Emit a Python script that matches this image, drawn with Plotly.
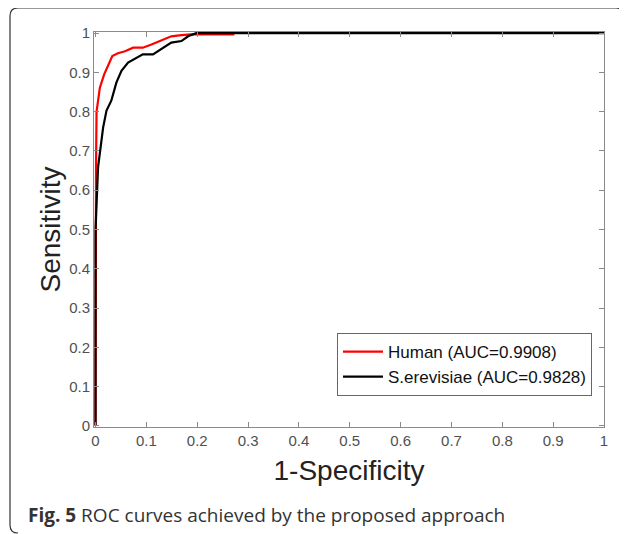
import plotly.graph_objects as go

# Data
human_fpr = [0, 0, 0.001, 0.002, 0.0085, 0.017, 0.025, 0.033, 0.044, 0.058, 0.074, 0.093, 0.11, 0.129, 0.149, 0.169, 0.188, 0.273]
human_tpr = [0, 0.5, 0.66, 0.80, 0.861, 0.895, 0.921, 0.942, 0.949, 0.954, 0.963, 0.963, 0.971, 0.982, 0.992, 0.995, 0.997, 0.997]

yeast_fpr = [0, 0, 0.005, 0.01, 0.015, 0.0216, 0.031, 0.041, 0.051, 0.064, 0.080, 0.093, 0.113, 0.129, 0.149, 0.169, 0.182, 0.198, 1.0]
yeast_tpr = [0, 0.5, 0.659, 0.718, 0.76, 0.803, 0.828, 0.874, 0.904, 0.925, 0.937, 0.946, 0.946, 0.959, 0.976, 0.980, 0.992, 1.0, 1.0]

tick_vals = [0, 0.1, 0.2, 0.3, 0.4, 0.5, 0.6, 0.7, 0.8, 0.9, 1]
tick_text = ["0", "0.1", "0.2", "0.3", "0.4", "0.5", "0.6", "0.7", "0.8", "0.9", "1"]

series_names = ["Human (AUC=0.9908)", "S.erevisiae (AUC=0.9828)"]
caption = "<b>Fig. 5</b> ROC curves achieved by the proposed approach"

# The page body has an 8px margin; size the figure so it fills the window.
OFF = 8
W, H = 627 - OFF, 534 - OFF
L, T = 94 - OFF, 32 - OFF
pw, ph = 510, 395
R, B = W - L - pw, H - T - ph

def px(x):   # page pixel x -> paper x
    return (x - OFF - L) / pw

def py(y):   # page pixel y -> paper y
    return (T + ph - (y - OFF)) / ph

fig = go.Figure()
fig.add_trace(go.Scatter(x=human_fpr, y=human_tpr, mode="lines", name=series_names[0],
                         line=dict(color="#ff0000", width=2.2)))
fig.add_trace(go.Scatter(x=yeast_fpr, y=yeast_tpr, mode="lines", name=series_names[1],
                         line=dict(color="#000000", width=2.2)))

axis_common = dict(
    tickvals=tick_vals, ticktext=tick_text,
    ticks="inside", ticklen=5, tickcolor="#8a8a8a", tickwidth=1,
    showline=True, linecolor="#8a8a8a", linewidth=1, mirror="ticks",
    showgrid=False, zeroline=False,
    tickfont=dict(family="Arial, Liberation Sans, sans-serif", size=15, color="#505050"),
)

fig.update_xaxes(range=[-0.003, 1.0], **axis_common,
                 title=dict(text="1-Specificity", standoff=12,
                            font=dict(family="Arial, Liberation Sans, sans-serif", size=28, color="#222222")))
fig.update_yaxes(range=[-0.003, 1.003], **axis_common,
                 title=dict(text="Sensitivity", standoff=0,
                            font=dict(family="Arial, Liberation Sans, sans-serif", size=28, color="#222222")))

# Rounded frame around the figure (cut by the image border at bottom/right)
x0, x1 = px(10), px(624)
y0, y1 = py(533), py(8)
path = (f"M {px(18)} {y0} Q {x0} {y0} {x0} {py(525)} "
        f"L {x0} {py(16)} Q {x0} {y1} {px(18)} {y1} "
        f"L {px(616)} {y1} Q {x1} {y1} {x1} {py(16)} L {x1} {py(534)}")
fig.add_shape(type="path", path=path, xref="paper", yref="paper",
              line=dict(color="#333333", width=1.2), layer="above")

fig.add_annotation(text=caption, xref="paper", yref="paper",
                   x=px(26), y=py(515), xanchor="left", yanchor="middle",
                   showarrow=False,
                   font=dict(family="Open Sans, Noto Sans, sans-serif", size=19, color="#333333"))

fig.update_layout(
    width=W, height=H,
    margin=dict(l=L, r=R, t=T, b=B),
    paper_bgcolor="white", plot_bgcolor="white",
    showlegend=True,
    legend=dict(x=px(592), y=py(396), xanchor="right", yanchor="bottom",
                bgcolor="white", bordercolor="#666666", borderwidth=1,
                font=dict(family="Arial, Liberation Sans, sans-serif", size=17, color="#111111"),
                tracegroupgap=0, itemwidth=40),
)

fig.write_html("out.html")
